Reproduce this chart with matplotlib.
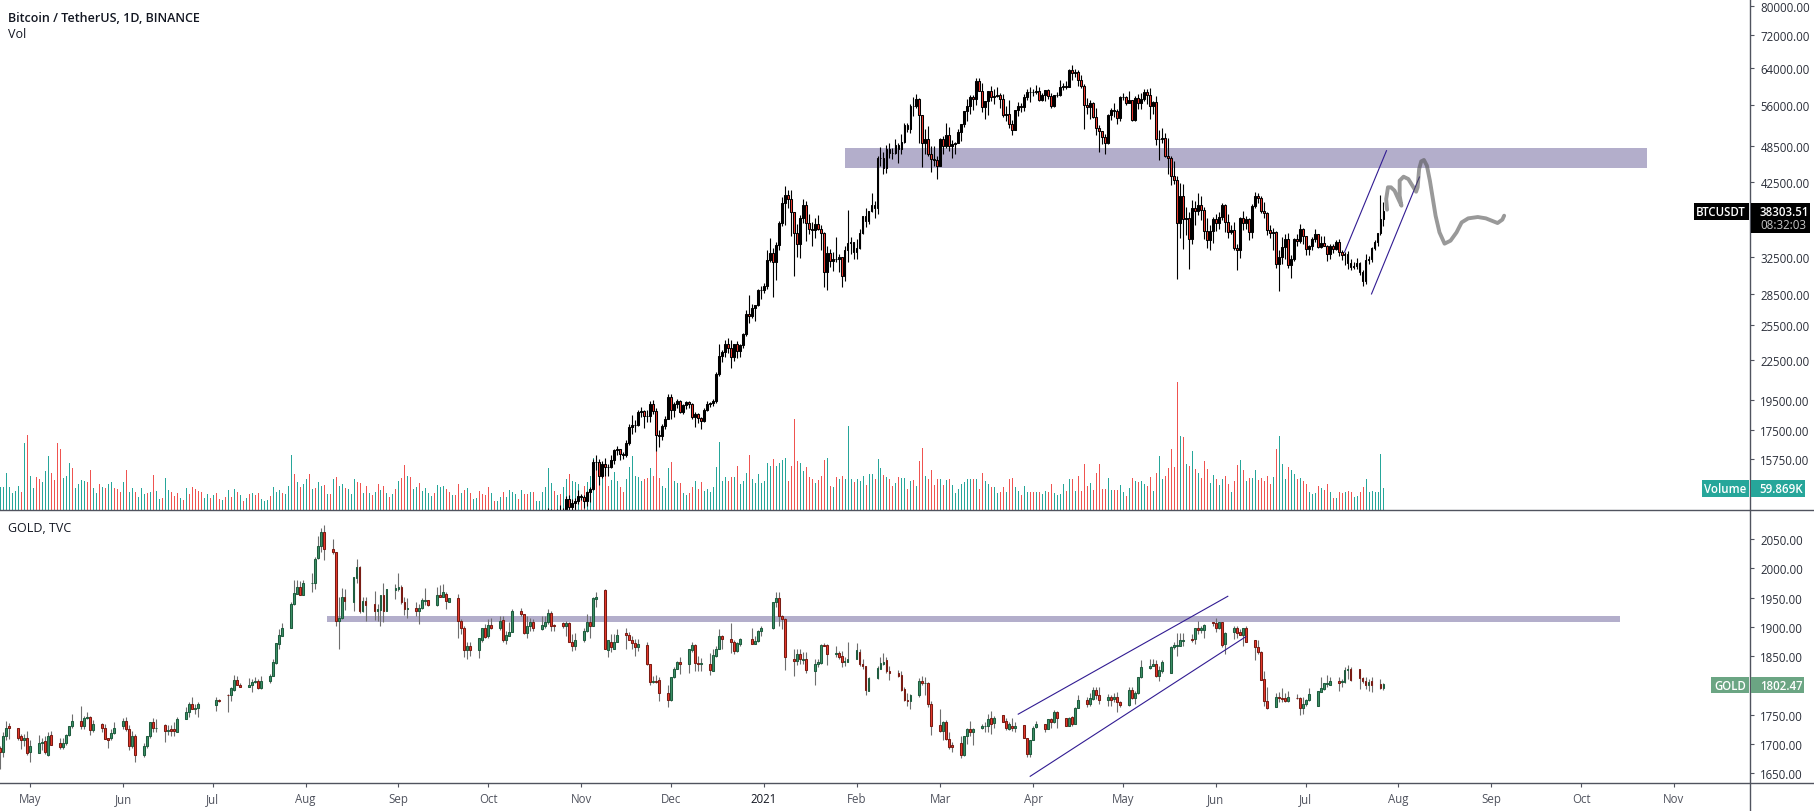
import matplotlib
matplotlib.use("Agg")
import numpy as np
import pandas as pd
import matplotlib.pyplot as plt
import matplotlib.dates as mdates
from matplotlib.lines import Line2D
from matplotlib.patches import Rectangle
from matplotlib.ticker import NullLocator

# Bitcoin daily candles, 2020-10-20 to 2021-07-27 (older ones sit below the pane)
btc_first_open = 11750
btc_close = [
    11914, 12823, 12965, 12931, 13108, 13031, 13068, 13654, 13272, 13437, 13546, 13780,
    13737, 13550, 14022, 14144, 15590, 15580, 14840, 15479, 15332, 15290, 15701, 16276, 16317, 16068, 15957,
    16713, 17659, 17776, 17802, 18655, 18703, 18414, 18365, 19160, 18720, 17149, 17139, 17719, 18185, 19696,
    18764, 19204, 19421, 18650, 19147, 19359, 19166, 18324, 18541, 18254, 18036, 18808, 19175, 19273, 19426,
    21335, 22797, 23107, 23821, 23455, 22719, 23810, 23232, 23729, 24712, 26493, 26281, 27079, 27385, 28875, 28923,
    29331, 32178, 33000, 31989, 33949, 36769, 39432, 40582, 40088, 38150, 35404, 34051, 37371, 39144, 36742,
    35994, 35828, 36631, 35891, 35468, 30850, 32945, 32078, 32259, 32254, 32467, 30366, 33364, 34252, 34262, 33092,
    33526, 35466, 37618, 36936, 38290, 39186, 38795, 46374, 46420, 44807, 47969, 47287, 47153, 48577,
    47911, 49133, 52119, 51552, 55906, 55841, 57408, 54087, 48891, 49676, 47073, 46276, 46106, 45135,
    49587, 48440, 50349, 48374, 48751, 48882, 50971, 52375, 54884, 55851, 57773, 57221, 61188, 58968, 55605,
    56900, 58912, 57648, 58030, 58102, 57351, 54083, 54340, 52303, 51293, 55025, 55817, 55777, 57635, 58746, 58740,
    58720, 58950, 57051, 58202, 59129, 57991, 55953, 58077, 58131, 59770, 60007, 59860, 63575, 62959, 63159,
    61334, 60006, 56150, 55633, 56425, 53787, 51690, 51125, 50047, 49004, 54021, 55033, 54824, 53555, 57697,
    57797, 56578, 57169, 53200, 57436, 56393, 57314, 58862, 58240, 55816, 56670, 49631, 49670, 49841, 46762,
    46431, 43538, 42849, 36690, 40526, 37252, 37449, 34655, 38796, 38324, 39241, 38529, 35663, 34605, 35641, 37253,
    36693, 37568, 39246, 36829, 35513, 35796, 33552, 33380, 37388, 36675, 37331, 35546, 39020, 40516, 40143,
    38349, 38092, 35820, 35484, 35600, 31676, 32505, 33675, 34663, 31584, 32283, 34700, 34494, 35911, 35045,
    33504, 33786, 34669, 35287, 33690, 34220, 33863, 32875, 33815, 33502, 34259, 33086, 32729, 32820, 31880,
    31383, 31520, 31778, 30839, 29790, 32144, 32287, 33634, 34258, 35381, 37276, 38303.51,
]
btc_high = [
    11990, 13217, 13185, 13027, 13166, 13350, 13238, 13789, 13859, 13639, 13675, 14100,
    13895, 13830, 14067, 14259, 15750, 15965, 15770, 15650, 15840, 15460, 15965, 16340, 16480, 16335, 16180,
    16880, 17858, 18476, 18147, 18815, 18965, 18750, 18766, 19418, 19484, 18915, 17457, 17880, 18360, 19863,
    19888, 19308, 19565, 19500, 19176, 19420, 19420, 19294, 18639, 18557, 18290, 18948, 19411, 19349, 19570,
    21560, 23800, 23285, 24171, 24295, 24102, 23837, 24100, 23794, 24789, 26867, 28422, 27500, 27410, 29000, 29300,
    29600, 33300, 34778, 33600, 34360, 36939, 40365, 41950, 41380, 41350, 38264, 36628, 37850, 40100, 39747,
    37950, 36852, 37405, 37850, 36415, 35552, 33826, 33456, 33071, 34875, 32921, 32557, 33783, 38531, 34933, 34288,
    34717, 35984, 37662, 38708, 38310, 40955, 39700, 46794, 48200, 47310, 48678, 48985, 48150, 49707,
    49010, 50526, 52618, 52550, 56368, 57700, 58352, 57533, 54183, 51374, 52041, 48394, 48360, 46638,
    49790, 50200, 52640, 51773, 49450, 49200, 51450, 52402, 54895, 57387, 58150, 58058, 61844, 61700, 60633,
    56938, 58981, 60000, 59474, 59880, 58650, 58430, 55830, 57200, 53240, 55100, 56640, 56559, 58400, 59368, 59800,
    59490, 60200, 59791, 58492, 59250, 59474, 58650, 58153, 58869, 61300, 60700, 61199, 63800, 64854, 63821,
    63520, 62506, 60437, 57526, 57076, 56757, 55460, 52120, 51166, 50591, 54356, 55467, 56428, 55195, 57963,
    58458, 57900, 58981, 57200, 57937, 58360, 58650, 59500, 59300, 59595, 56900, 58000, 51367, 51560, 50700,
    49800, 46653, 45808, 43546, 42451, 42200, 38856, 38270, 39920, 39800, 40900, 40411, 38856, 37338, 36488, 37499,
    37896, 38225, 39476, 39289, 37925, 36480, 36800, 34068, 37534, 38400, 37680, 37436, 39380, 41064, 40978,
    40527, 39559, 38202, 36457, 36139, 35750, 33298, 34881, 35298, 35500, 32730, 34749, 35297, 36600, 36100,
    35059, 33977, 34945, 35967, 35118, 35056, 35059, 33929, 34100, 34078, 34591, 34678, 33340, 33114, 33185,
    32249, 31935, 32435, 31899, 31038, 32858, 32591, 33650, 34500, 35398, 40550, 39542,
]
btc_low = [
    11680, 11886, 12678, 12721, 12885, 12888, 12800, 13060, 12888, 12920, 13125, 13420,
    13621, 13195, 13300, 13525, 14093, 15166, 14344, 14707, 14805, 14838, 15262, 15450, 15960, 15715, 15770,
    15865, 16545, 17214, 17338, 17740, 18340, 17610, 18000, 18018, 18500, 16188, 16438, 16865, 17517, 18180,
    18188, 18330, 18925, 18570, 18500, 18857, 18902, 18200, 17650, 17911, 17572, 18020, 18711, 19000, 19050,
    19288, 21230, 22350, 22750, 23060, 21815, 22353, 22600, 22703, 23433, 24500, 25700, 26101, 25880, 27320, 28000,
    28624, 28946, 31962, 28130, 29900, 33288, 36300, 36500, 38720, 35111, 30420, 32531, 32380, 36701, 34408,
    35357, 33850, 34800, 35844, 33400, 29241, 28850, 31390, 30900, 31910, 30837, 29241, 29842, 31915, 32825, 32270,
    32296, 33418, 35362, 36161, 36570, 38216, 37351, 37988, 45020, 43727, 43994, 46400, 46202, 47014,
    45570, 47003, 48947, 50880, 50710, 53863, 55477, 48967, 44892, 47000, 46700, 44106, 45000, 43016,
    45042, 47047, 48100, 47500, 46300, 47070, 48882, 49274, 51789, 53005, 54272, 55013, 56078, 58966, 54600,
    53271, 54124, 56938, 56283, 57820, 55450, 53650, 52986, 51700, 50427, 51226, 53966, 54691, 54900, 57072, 56769,
    57935, 58428, 56900, 56956, 56817, 57333, 55473, 55700, 57654, 57875, 59200, 59369, 59791, 61301, 62020,
    60000, 59580, 51541, 54221, 53329, 53600, 50400, 47464, 48753, 47000, 48807, 53222, 53813, 52330, 53013,
    57029, 56035, 56488, 53000, 52900, 55200, 55241, 56900, 56235, 53400, 54370, 48600, 46000, 48870, 46555,
    43825, 42101, 42250, 30000, 34850, 33488, 35200, 31111, 34031, 36419, 37800, 37134, 34684, 33632, 33379, 34153,
    35666, 35920, 37170, 35555, 34800, 35258, 33300, 31000, 32396, 35800, 35937, 34600, 34757, 38730, 39506,
    38116, 37365, 35129, 34803, 33336, 31251, 28805, 31683, 32286, 31275, 30151, 32000, 33862, 34231, 34017,
    32711, 32699, 33316, 34357, 33532, 33532, 33777, 32077, 32261, 33004, 33300, 32658, 32202, 31550, 31133,
    31020, 31164, 31108, 30429, 29278, 29482, 31708, 31925, 33401, 33851, 35205, 36383,
]

# Volume in thousands, one per day from 2020-04-21
btc_volume = [
    62, 62, 102, 62, 45, 51, 64, 48, 182, 204, 92, 60, 89, 84, 75, 106, 146, 100, 82, 182,
    166, 87, 92, 128, 113, 60, 71, 82, 79, 76, 109, 60, 45, 71, 62, 60, 71, 76, 60, 57,
    49, 76, 109, 49, 60, 49, 35, 60, 44, 46, 49, 95, 52, 30, 33, 87, 54, 49, 38, 46,
    33, 27, 60, 44, 63, 57, 52, 49, 33, 44, 33, 41, 46, 30, 27, 35, 54, 35, 57, 49,
    41, 24, 33, 44, 46, 41, 46, 30, 24, 27, 38, 63, 49, 54, 46, 44, 65, 150, 98, 76,
    63, 71, 84, 98, 57, 60, 76, 65, 68, 44, 44, 84, 90, 65, 71, 60, 57, 44, 84, 76,
    73, 46, 65, 46, 41, 49, 71, 54, 65, 46, 35, 44, 57, 79, 87, 122, 93, 90, 57, 63,
    73, 52, 60, 46, 38, 46, 68, 63, 65, 57, 49, 41, 41, 71, 46, 54, 60, 46, 30, 33,
    52, 44, 41, 63, 46, 24, 24, 35, 49, 35, 54, 49, 44, 30, 54, 44, 44, 49, 49, 24, 24,
    50, 63, 115, 73, 53, 41, 43, 63, 83, 97, 78, 75, 70, 41, 66, 77, 93, 142, 131, 104,
    109, 95, 64, 81, 104, 78, 62, 48, 83, 116, 148, 93, 91, 79, 83, 86, 115, 93, 181, 88,
    66, 59, 115, 130, 78, 73, 73, 45, 40, 47, 63, 80, 56, 75, 53, 58, 50, 63, 116, 184,
    80, 89, 79, 89, 89, 121, 72, 80, 100, 149, 83, 73, 97, 74, 78, 129, 121, 140, 119, 127,
    135, 141, 78, 119, 247, 134, 127, 105, 118, 89, 83, 73, 81, 92, 135, 142, 66, 62, 91, 85,
    93, 84, 228, 84, 77, 83, 80, 93, 68, 98, 98, 84, 139, 113, 96, 89, 84, 64, 73, 89,
    87, 86, 57, 78, 82, 66, 132, 168, 93, 84, 109, 68, 84, 84, 69, 82, 84, 68, 46, 57,
    71, 75, 84, 83, 84, 84, 57, 102, 80, 71, 62, 63, 46, 50, 62, 48, 84, 86, 62, 53,
    41, 66, 50, 48, 50, 48, 50, 44, 53, 48, 71, 45, 42, 44, 71, 53, 84, 84, 53, 92,
    53, 125, 66, 73, 55, 102, 125, 57, 57, 86, 55, 55, 55, 69, 48, 39, 59, 86, 78, 75,
    78, 71, 64, 89, 53, 102, 146, 84, 92, 113, 166, 118, 347, 200, 198, 125, 121, 160, 112, 102,
    87, 133, 112, 73, 95, 83, 68, 83, 92, 71, 48, 80, 122, 136, 109, 78, 86, 86, 109, 82,
    86, 80, 93, 71, 89, 166, 202, 125, 84, 118, 109, 98, 84, 87, 78, 71, 50, 44, 46, 66,
    60, 55, 71, 48, 34, 33, 49, 46, 49, 52, 48, 36, 39, 48, 62, 84, 50, 53, 50, 48, 152, 59.869,
]
# bar colour for the days before the candle list starts: g up, r down
early_volume_side = (
    "gggggggrgr" "ggrrgggrrr" "rgggrggggr" "rggrgrggrr" "rgrggrgggr" "grggrggrrr"
    "grgrrrrrgg" "rgrrgrgrgr" "grgrgrrggg" "rgggrgggrg" "rggrgrggrg" "rgrggrgggr"
    "rgrgrgrgrg" "rgrgrrgrgg" "rggggrgggr" "rgrrgrgrgg" "rrrrgrggrg" "gggrgrrgrg" "gg"
)

# Drawn on the Bitcoin pane
btc_zone_days = ["2021-01-28", "2021-10-23"]
btc_zone_prices = [44740, 48085]
btc_channel_a_days = ["2021-07-14", "2021-07-28"]
btc_channel_a_prices = [33100, 47610]
btc_channel_b_days = ["2021-07-23", "2021-08-08"]
btc_channel_b_prices = [28480, 43320]
sketch_offsets = [453.2, 452.9, 453.5, 454.5, 455.7, 456.7, 458.0, 457.4, 457.4, 458.7, 460.3, 462.0, 462.9,
                  463.4, 463.9, 464.6, 465.5, 466.5, 467.5, 468.5, 469.4, 470.7, 472.4, 474.4, 476.4, 478.1,
                  480.3, 483.5, 486.2, 490.1, 491.7, 492.3]
sketch_prices = [38530, 40030, 41750, 41750, 41250, 40280, 39090, 40520, 42760, 43370, 43010, 41750, 41100,
                 41750, 44580, 45820, 46050, 45120, 42760, 40030, 37710, 35520, 34110, 34480, 35520, 36810,
                 37350, 37530, 37350, 36730, 37180, 37710]

# Gold daily candles, one line per week
gold_missing = ["2020-06-29", "2020-06-30", "2020-07-01", "2020-12-25", "2021-01-01"]
gold_open = [
    1694, 1686, 1713, 1730,
    1727, 1713, 1707, 1711, 1686,
    1684, 1701, 1705, 1681, 1715,
    1701, 1695, 1701, 1715, 1730,
    1740, 1730, 1744, 1747, 1724,
    1734, 1728, 1710, 1710, 1718,
    1730, 1739, 1725, 1697, 1713,
    1681, 1696, 1713, 1737, 1727,
    1732, 1723, 1726, 1725, 1721,
    1742, 1754, 1768, 1759, 1762,
    1767, 1775,
    1784, 1783, 1793, 1809, 1800,
    1798, 1801, 1806, 1808, 1796,
    1808, 1817, 1839, 1871, 1885,
    1899, 1940, 1957, 1969, 1955,
    1975, 1975, 2018, 2038, 2063,
    2034, 2028, 1911, 1916, 1952,
    1943, 1984, 2002, 1928, 1945,
    1939, 1928, 1929, 1955, 1928,
    1964, 1965, 1969, 1942, 1930,
    1932, 1928, 1932, 1944, 1946,
    1938, 1955, 1952, 1957, 1943,
    1950, 1911, 1899, 1861, 1867,
    1860, 1877, 1898, 1884, 1904,
    1898, 1912, 1877, 1885, 1892,
    1928, 1922, 1890, 1901, 1908,
    1897, 1902, 1908, 1924, 1903,
    1906, 1901, 1906, 1875, 1867,
    1877, 1894, 1908, 1902, 1948,
    1963, 1860, 1875, 1863, 1875,
    1890, 1887, 1878, 1872, 1865,
    1869, 1836, 1806, 1808, 1810,
    1787, 1776, 1814, 1829, 1840,
    1837, 1860, 1870, 1838, 1836,
    1836, 1825, 1851, 1863, 1884,
    1880, 1875, 1859, 1871,
    1879, 1871, 1876, 1894,
    1898, 1942, 1949, 1918, 1913,
    1846, 1842, 1853, 1844, 1845,
    1825, 1837, 1838, 1870, 1870,
    1854, 1855, 1850, 1841, 1841,
    1845, 1858, 1837, 1833, 1791,
    1812, 1829, 1837, 1843, 1824,
    1822, 1818, 1794, 1776, 1774,
    1783, 1808, 1804, 1804, 1768,
    1733, 1722, 1737, 1709, 1698,
    1701, 1682, 1714, 1726, 1721,
    1727, 1730, 1730, 1744, 1736,
    1749, 1739, 1726, 1731, 1727,
    1732, 1711, 1683, 1706, 1729,
    1734, 1726, 1742, 1737, 1754,
    1744, 1731, 1746, 1735, 1762,
    1775, 1769, 1777, 1793, 1783,
    1776, 1780, 1777, 1781, 1771,
    1767, 1792, 1778, 1787, 1814,
    1830, 1834, 1836, 1816, 1825,
    1822, 1865, 1868, 1868, 1876,
    1880, 1879, 1898, 1895, 1895,
    1908, 1907, 1898, 1908, 1871,
    1891, 1898, 1891, 1887, 1898,
    1877, 1865, 1858, 1811, 1773,
    1764, 1781, 1778, 1778, 1774,
    1779, 1778, 1761, 1768, 1776,
    1765, 1789, 1794, 1802, 1801,
    1807, 1806, 1806, 1826, 1829,
    1828, 1812, 1808, 1801, 1807,
    1802, 1796,
]
gold_high = [
    1697, 1720, 1740, 1736,
    1728, 1717, 1717, 1722, 1706,
    1715, 1711, 1713, 1720, 1723,
    1711, 1711, 1717, 1731, 1751,
    1765, 1748, 1755, 1748, 1741,
    1736, 1735, 1711, 1726, 1737,
    1744, 1746, 1733, 1722, 1717,
    1702, 1714, 1738, 1744, 1743,
    1735, 1732, 1732, 1737, 1746,
    1763, 1772, 1780, 1768, 1772,
    1781, 1777,
    1785, 1798, 1818, 1817, 1805,
    1812, 1811, 1814, 1811, 1816,
    1820, 1845, 1873, 1897, 1907,
    1942, 1980, 1981, 1979, 1980,
    1993, 2019, 2055, 2069, 2074,
    2050, 2029, 1952, 1966, 1965,
    1985, 2016, 2004, 1952, 1952,
    1961, 1939, 1955, 1976, 1965,
    1973, 1992, 1971, 1952, 1949,
    1942, 1940, 1949, 1967, 1947,
    1968, 1971, 1973, 1960, 1949,
    1956, 1914, 1901, 1874, 1874,
    1882, 1899, 1905, 1914, 1916,
    1919, 1919, 1894, 1908, 1931,
    1932, 1922, 1919, 1916, 1914,
    1918, 1918, 1931, 1928, 1905,
    1908, 1911, 1908, 1888, 1889,
    1898, 1922, 1919, 1951, 1959,
    1965, 1878, 1888, 1888, 1896,
    1898, 1892, 1885, 1879, 1879,
    1875, 1837, 1817, 1818, 1814,
    1801, 1814, 1831, 1842, 1848,
    1862, 1875, 1871, 1850, 1847,
    1855, 1862, 1867, 1896, 1886,
    1906, 1877, 1875, 1882,
    1899, 1885, 1895, 1901,
    1943, 1959, 1959, 1920, 1916,
    1862, 1862, 1863, 1858, 1857,
    1845, 1845, 1871, 1872, 1871,
    1867, 1859, 1859, 1848, 1875,
    1872, 1862, 1845, 1834, 1814,
    1834, 1848, 1855, 1848, 1834,
    1826, 1825, 1797, 1788, 1785,
    1812, 1816, 1814, 1806, 1774,
    1760, 1740, 1741, 1720, 1703,
    1714, 1714, 1728, 1739, 1728,
    1734, 1737, 1751, 1757, 1748,
    1750, 1745, 1737, 1745, 1737,
    1732, 1711, 1707, 1731, 1740,
    1734, 1743, 1744, 1758, 1757,
    1745, 1747, 1748, 1763, 1784,
    1780, 1787, 1797, 1797, 1797,
    1785, 1784, 1787, 1789, 1773,
    1798, 1797, 1791, 1815, 1843,
    1845, 1845, 1844, 1834, 1843,
    1867, 1875, 1889, 1890, 1889,
    1888, 1899, 1911, 1902, 1905,
    1909, 1916, 1909, 1909, 1891,
    1902, 1902, 1896, 1899, 1902,
    1878, 1877, 1859, 1824, 1798,
    1788, 1789, 1796, 1788, 1790,
    1786, 1780, 1780, 1777, 1796,
    1791, 1814, 1805, 1818, 1814,
    1814, 1811, 1831, 1835, 1831,
    1828, 1814, 1814, 1811, 1814,
    1811, 1805,
]
gold_low = [
    1657, 1677, 1706, 1709,
    1706, 1691, 1697, 1681, 1670,
    1684, 1689, 1683, 1680, 1699,
    1691, 1691, 1698, 1713, 1728,
    1726, 1726, 1743, 1715, 1720,
    1720, 1709, 1693, 1706, 1717,
    1726, 1723, 1689, 1694, 1670,
    1677, 1694, 1711, 1720, 1720,
    1704, 1715, 1713, 1714, 1720,
    1742, 1747, 1759, 1751, 1747,
    1757, 1772,
    1755, 1773, 1791, 1800, 1798,
    1797, 1789, 1805, 1794, 1794,
    1805, 1817, 1837, 1862, 1884,
    1898, 1938, 1956, 1954, 1954,
    1959, 1965, 2016, 2028, 2015,
    2025, 1901, 1863, 1914, 1929,
    1928, 1975, 1924, 1925, 1911,
    1912, 1911, 1902, 1908, 1928,
    1948, 1962, 1939, 1920, 1916,
    1919, 1905, 1931, 1938, 1936,
    1936, 1951, 1951, 1931, 1942,
    1881, 1888, 1848, 1846, 1851,
    1847, 1875, 1881, 1882, 1897,
    1895, 1875, 1871, 1885, 1892,
    1919, 1888, 1881, 1894, 1894,
    1895, 1898, 1905, 1894, 1894,
    1898, 1885, 1874, 1859, 1861,
    1874, 1892, 1882, 1902, 1934,
    1862, 1849, 1857, 1862, 1874,
    1862, 1877, 1862, 1851, 1859,
    1835, 1800, 1804, 1805, 1774,
    1764, 1774, 1812, 1828, 1820,
    1822, 1858, 1824, 1825, 1824,
    1818, 1825, 1848, 1862, 1862,
    1855, 1854, 1857, 1868,
    1871, 1871, 1875, 1885,
    1896, 1934, 1901, 1896, 1827,
    1817, 1835, 1837, 1837, 1822,
    1801, 1831, 1837, 1867, 1835,
    1848, 1845, 1831, 1834, 1840,
    1845, 1834, 1828, 1784, 1791,
    1811, 1828, 1835, 1822, 1809,
    1815, 1791, 1774, 1765, 1760,
    1781, 1800, 1783, 1764, 1715,
    1721, 1706, 1706, 1691, 1687,
    1676, 1680, 1700, 1714, 1699,
    1726, 1720, 1720, 1717, 1728,
    1737, 1724, 1724, 1723, 1721,
    1710, 1677, 1677, 1706, 1728,
    1721, 1725, 1728, 1736, 1728,
    1731, 1730, 1731, 1734, 1761,
    1763, 1765, 1776, 1777, 1768,
    1765, 1765, 1771, 1755, 1764,
    1765, 1777, 1768, 1785, 1813,
    1828, 1833, 1814, 1808, 1822,
    1821, 1863, 1851, 1867, 1868,
    1875, 1871, 1888, 1890, 1882,
    1902, 1892, 1897, 1865, 1854,
    1880, 1882, 1886, 1868, 1874,
    1844, 1854, 1809, 1765, 1760,
    1764, 1772, 1771, 1772, 1772,
    1777, 1750, 1751, 1765, 1774,
    1765, 1789, 1792, 1798, 1800,
    1791, 1797, 1805, 1811, 1808,
    1794, 1805, 1794, 1791, 1789,
    1794, 1792,
]
gold_close = [
    1686, 1713, 1728, 1727,
    1710, 1706, 1710, 1684, 1697,
    1701, 1704, 1686, 1714, 1699,
    1695, 1701, 1715, 1730, 1740,
    1730, 1744, 1747, 1724, 1734,
    1727, 1709, 1707, 1718, 1728,
    1739, 1725, 1697, 1713, 1681,
    1696, 1713, 1737, 1727, 1728,
    1723, 1724, 1723, 1722, 1742,
    1754, 1768, 1759, 1761, 1769,
    1775, 1774,
    1783, 1795, 1809, 1801, 1798,
    1801, 1806, 1807, 1796, 1808,
    1817, 1840, 1872, 1886, 1899,
    1940, 1958, 1969, 1955, 1975,
    1976, 2017, 2038, 2063, 2033,
    2028, 1911, 1915, 1952, 1944,
    1985, 2002, 1928, 1945, 1938,
    1928, 1931, 1955, 1928, 1965,
    1967, 1968, 1942, 1930, 1932,
    1928, 1932, 1946, 1946, 1938,
    1955, 1952, 1959, 1944, 1949,
    1911, 1899, 1861, 1867, 1860,
    1881, 1898, 1883, 1904, 1898,
    1911, 1877, 1886, 1892, 1928,
    1922, 1890, 1901, 1908, 1898,
    1903, 1908, 1924, 1902, 1901,
    1901, 1907, 1875, 1867, 1877,
    1894, 1908, 1901, 1949, 1951,
    1862, 1878, 1865, 1875, 1887,
    1887, 1878, 1872, 1865, 1871,
    1836, 1806, 1808, 1806, 1787,
    1776, 1814, 1829, 1840, 1837,
    1862, 1869, 1838, 1836, 1838,
    1827, 1852, 1863, 1884, 1880,
    1875, 1859, 1872, 1879,
    1871, 1876, 1894, 1898,
    1943, 1949, 1918, 1913, 1848,
    1842, 1853, 1845, 1845, 1827,
    1837, 1840, 1870, 1868, 1854,
    1855, 1849, 1841, 1842, 1846,
    1860, 1836, 1833, 1793, 1813,
    1830, 1838, 1841, 1824, 1822,
    1817, 1793, 1776, 1774, 1783,
    1808, 1805, 1805, 1769, 1731,
    1723, 1737, 1709, 1695, 1695,
    1682, 1714, 1726, 1721, 1726,
    1731, 1731, 1743, 1735, 1744,
    1738, 1727, 1734, 1727, 1730,
    1711, 1683, 1706, 1728, 1734,
    1726, 1742, 1737, 1754, 1744,
    1731, 1745, 1735, 1762, 1775,
    1769, 1778, 1793, 1783, 1776,
    1780, 1776, 1781, 1771, 1767,
    1792, 1778, 1787, 1814, 1831,
    1834, 1836, 1816, 1826, 1841,
    1866, 1869, 1870, 1877, 1878,
    1878, 1898, 1895, 1898, 1903,
    1906, 1899, 1908, 1869, 1889,
    1898, 1890, 1887, 1898, 1875,
    1865, 1858, 1810, 1773, 1761,
    1781, 1778, 1777, 1774, 1780,
    1778, 1761, 1768, 1776, 1786,
    1790, 1795, 1804, 1804, 1807,
    1805, 1807, 1826, 1829, 1809,
    1812, 1808, 1801, 1806, 1800,
    1796, 1802.47,
]

gold_zone_days = ["2020-08-08", "2021-10-14"]
gold_zone_prices = [1908.5, 1918.8]
gold_channel_a_days = ["2021-03-27", "2021-06-05"]
gold_channel_a_prices = [1751, 1952.5]
gold_channel_b_days = ["2021-03-31", "2021-06-11"]
gold_channel_b_prices = [1644.8, 1883.4]

btc_ticks = [80000, 72000, 64000, 56000, 48500, 42500, 32500, 28500, 25500, 22500, 19500, 17500, 15750]
gold_ticks = [2050, 2000, 1950, 1900, 1850, 1750, 1700, 1650]
month_ticks = ["2020-05-01", "2020-06-01", "2020-07-01", "2020-08-01", "2020-09-01", "2020-10-01",
               "2020-11-01", "2020-12-01", "2021-01-01", "2021-02-01", "2021-03-01", "2021-04-01",
               "2021-05-01", "2021-06-01", "2021-07-01", "2021-08-01", "2021-09-01", "2021-10-01", "2021-11-01"]
month_labels = ["May", "Jun", "Jul", "Aug", "Sep", "Oct", "Nov", "Dec", "2021", "Feb", "Mar", "Apr",
                "May", "Jun", "Jul", "Aug", "Sep", "Oct", "Nov"]

WIDTH, HEIGHT = 1814, 812
AXIS_X = 1750
PANE_Y = 511
BOTTOM_Y = 784
LINE_GREY = "#50535e"
TEXT_DARK = "#131722"
ZONE = "#b3aecb"
CHANNEL = "#311b92"
TEAL = "#26a69a"
RED = "#ef5350"
GOLD_TAG = "#6ba583"

plt.rcParams["font.family"] = ["Open Sans", "DejaVu Sans"]


def Day(text):
    return mdates.date2num(pd.Timestamp(text))


def Main():
    fig = plt.figure(figsize=(WIDTH / 100, HEIGHT / 100), dpi=100)
    ax_btc = fig.add_axes([0, 1 - PANE_Y / HEIGHT, AXIS_X / WIDTH, PANE_Y / HEIGHT])
    ax_gold = fig.add_axes([0, 1 - BOTTOM_Y / HEIGHT, AXIS_X / WIDTH, (BOTTOM_Y - PANE_Y) / HEIGHT])
    ax_vol = ax_btc.twinx()
    ax_btc.set_zorder(2)
    ax_btc.patch.set_visible(False)
    ax_vol.set_zorder(1)

    PlotVolume(ax_vol)
    PlotBitcoin(ax_btc)
    PlotGold(ax_gold)
    StyleAxes(ax_btc, ax_gold, ax_vol)
    AddFrameLines(fig)
    AddTags(fig)

    fig.savefig("out.png", dpi=100)
    plt.close(fig)


def PlotVolume(ax):
    days = mdates.date2num(pd.date_range("2020-04-21", periods=len(btc_volume)))
    opens = [btc_first_open] + btc_close[:-1]
    late_side = ["g" if c >= o else "r" for o, c in zip(opens, btc_close)]
    sides = list(early_volume_side) + late_side
    colors = [TEAL if side == "g" else RED for side in sides]
    ax.vlines(days, 0, btc_volume, colors=colors, linewidth=0.72, antialiased=False)
    ax.set_ylim(0, PANE_Y * 2.72)


def PlotCandles(ax, days, opens, highs, lows, closes, up_fill, down_fill, up_edge, down_edge, wick):
    opens, closes = np.array(opens, dtype=float), np.array(closes, dtype=float)
    up = closes >= opens
    ax.vlines(days, lows, highs, colors=wick, linewidth=0.8, zorder=3)
    bottoms = np.minimum(opens, closes)
    heights = np.maximum(np.abs(closes - opens), 0.001)
    for mask, fill, edge in [(up, up_fill, up_edge), (~up, down_fill, down_edge)]:
        ax.bar(days[mask], heights[mask], 0.62, bottoms[mask], color=fill, edgecolor=edge, linewidth=0.75, zorder=4)


def PlotBitcoin(ax):
    days = mdates.date2num(pd.date_range("2020-10-20", periods=len(btc_close)))
    opens = [btc_first_open] + btc_close[:-1]
    ax.set_yscale("log")
    PlotCandles(ax, days, opens, btc_high, btc_low, btc_close, "#000000", "#f23b2f", "#000000", "#000000", "#000000")

    ax.add_patch(Rectangle((Day(btc_zone_days[0]), btc_zone_prices[0]),
                           Day(btc_zone_days[1]) - Day(btc_zone_days[0]),
                           btc_zone_prices[1] - btc_zone_prices[0],
                           facecolor=ZONE, edgecolor="none", zorder=1))
    for line_days, line_prices in [(btc_channel_a_days, btc_channel_a_prices),
                                   (btc_channel_b_days, btc_channel_b_prices)]:
        ax.plot([Day(d) for d in line_days], line_prices, color=CHANNEL, linewidth=0.8, zorder=5)
    sketch_days = [Day("2020-05-01") + offset for offset in sketch_offsets]
    ax.plot(sketch_days, sketch_prices, color="#555555", alpha=0.6, linewidth=2.8,
            solid_capstyle="round", solid_joinstyle="round", zorder=6)

    ax.set_ylim(80000 * np.exp(-504 / 278.8), 80000 * np.exp(7 / 278.8))
    ax.set_yticks(btc_ticks, [f"{tick}.00" for tick in btc_ticks])


def PlotGold(ax):
    dates = pd.bdate_range("2020-04-21", "2021-07-27")
    dates = dates[~dates.isin(pd.to_datetime(gold_missing))]
    days = mdates.date2num(dates)
    PlotCandles(ax, days, gold_open, gold_high, gold_low, gold_close,
                "#3c9166", "#e8392b", "#1f5c3f", "#7a1c14", "#6e6e6e")
    ax.add_patch(Rectangle((Day(gold_zone_days[0]), gold_zone_prices[0]),
                           Day(gold_zone_days[1]) - Day(gold_zone_days[0]),
                           gold_zone_prices[1] - gold_zone_prices[0],
                           facecolor=ZONE, edgecolor="none", zorder=1))
    for line_days, line_prices in [(gold_channel_a_days, gold_channel_a_prices),
                                   (gold_channel_b_days, gold_channel_b_prices)]:
        ax.plot([Day(d) for d in line_days], line_prices, color=CHANNEL, linewidth=0.8, zorder=5)
    ax.set_ylim(1900 - (BOTTOM_Y - 628) / 0.585, 1900 + (628 - PANE_Y) / 0.585)
    ax.set_yticks(gold_ticks, [f"{tick}.00" for tick in gold_ticks])


def StyleAxes(ax_btc, ax_gold, ax_vol):
    left = Day("2020-05-01") - 30.2 / 2.994
    right = Day("2020-05-01") + (AXIS_X - 30.2) / 2.994
    for ax in [ax_btc, ax_gold, ax_vol]:
        ax.set_xlim(left, right)
        for side in ax.spines.values():
            side.set_visible(False)
    ax_vol.set_yticks([])
    ax_vol.tick_params(bottom=False, labelbottom=False, right=False, left=False)
    ax_btc.yaxis.set_minor_locator(NullLocator())
    ax_btc.tick_params(axis="x", bottom=False, labelbottom=False)
    for ax in [ax_btc, ax_gold]:
        ax.yaxis.tick_right()
        ax.tick_params(axis="y", length=3, width=0.8, color=LINE_GREY, pad=4.5,
                       labelsize=8.3, labelcolor="#2a2e39")
    ax_gold.set_xticks([Day(d) for d in month_ticks], month_labels)
    ax_gold.tick_params(axis="x", length=3, width=0.8, color=LINE_GREY, pad=3.5,
                        labelsize=8.3, labelcolor="#50535e")
    for label in ax_gold.get_xticklabels():
        if label.get_text() == "2021":
            label.set_color(TEXT_DARK)


def AddFrameLines(fig):
    for x0, y0, x1, y1 in [(0, PANE_Y, WIDTH, PANE_Y), (0, BOTTOM_Y, WIDTH, BOTTOM_Y), (AXIS_X, 0, AXIS_X, HEIGHT)]:
        fig.add_artist(Line2D([x0 / WIDTH, x1 / WIDTH], [1 - y0 / HEIGHT, 1 - y1 / HEIGHT],
                              color=LINE_GREY, linewidth=1.0, zorder=10))


def AddBox(fig, x0, y0, x1, y1, color):
    fig.add_artist(Rectangle((x0 / WIDTH, 1 - y1 / HEIGHT), (x1 - x0) / WIDTH, (y1 - y0) / HEIGHT,
                             transform=fig.transFigure, facecolor=color, edgecolor="none", zorder=11))


def AddText(fig, x, y, text, color, size=8.3, weight="normal", ha="left"):
    fig.text(x / WIDTH, 1 - y / HEIGHT, text, color=color, fontsize=size, fontweight=weight,
             ha=ha, va="center", zorder=12)


def AddTags(fig):
    AddText(fig, 8, 18, "Bitcoin / TetherUS, 1D, BINANCE", TEXT_DARK, size=9.0, weight="semibold")
    AddText(fig, 8, 34, "Vol", TEXT_DARK, size=9.0)
    AddText(fig, 8, 529, "GOLD, TVC", TEXT_DARK, size=9.0)

    AddBox(fig, 1694, 204, 1749, 221, "#000000")
    AddBox(fig, 1751, 204, 1810, 234, "#000000")
    AddText(fig, 1721, 213, "BTCUSDT", "#ffffff", weight="semibold", ha="center")
    AddText(fig, 1760, 213, "38303.51", "#ffffff", weight="semibold")
    AddText(fig, 1760, 226, "08:32:03", "#c8c8c8")

    AddBox(fig, 1702, 481, 1749, 498, TEAL)
    AddBox(fig, 1751, 481, 1805, 498, TEAL)
    AddText(fig, 1725, 490, "Volume", "#ffffff", weight="semibold", ha="center")
    AddText(fig, 1759, 490, "59.869K", "#ffffff", weight="semibold")

    AddBox(fig, 1711, 678, 1749, 694, GOLD_TAG)
    AddBox(fig, 1751, 678, 1804, 694, GOLD_TAG)
    AddText(fig, 1730, 687, "GOLD", "#ffffff", weight="semibold", ha="center")
    AddText(fig, 1760, 687, "1802.47", "#ffffff", weight="semibold")


if __name__ == "__main__":
    Main()
